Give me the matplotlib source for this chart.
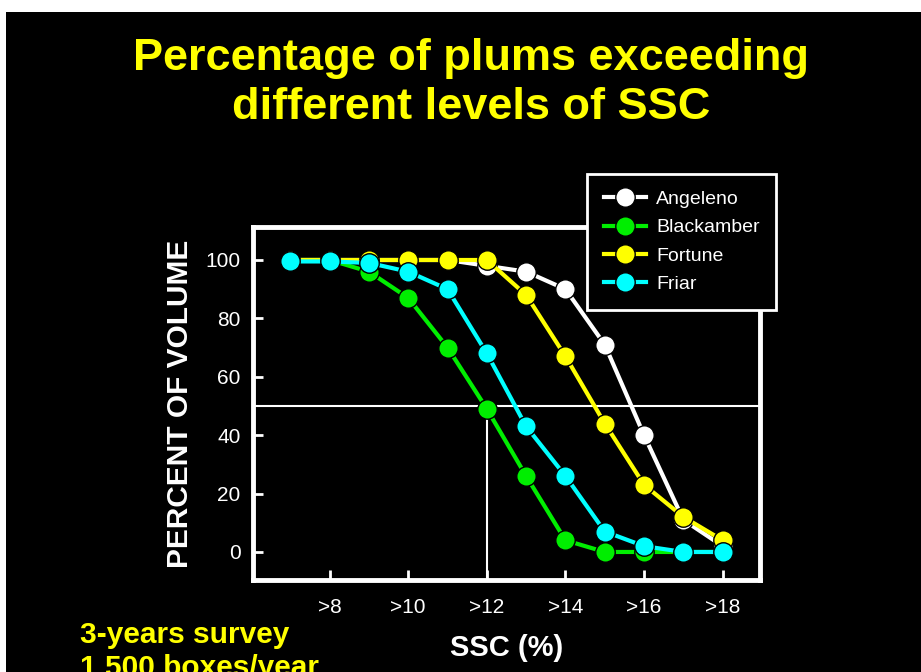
import numpy as np
import matplotlib
matplotlib.use('Agg')
from matplotlib import pyplot as plt
from matplotlib.patches import Rectangle

plt.rcParams['font.family'] = ['Liberation Sans', 'DejaVu Sans']

# data
ssc = [7, 8, 9, 10, 11, 12, 13, 14, 15, 16, 17, 18]
angeleno = [100, 100, 100, 100, 100, 98, 96, 90, 71, 40, 11, 2]
blackamber = [100, 100, 96, 87, 70, 49, 26, 4, 0, 0, 0, 0]
fortune = [100, 100, 100, 100, 100, 100, 88, 67, 44, 23, 12, 4]
friar = [99.5, 99.5, 99, 96, 90, 68, 43, 26, 7, 2, 0, 0]

series = [('Angeleno', angeleno, 'white'),
          ('Blackamber', blackamber, '#00ee00'),
          ('Fortune', fortune, '#ffff00'),
          ('Friar', friar, '#00ffff')]

xticks = [8, 10, 12, 14, 16, 18]
xticklabels = ['>8', '>10', '>12', '>14', '>16', '>18']
yticks = [0, 20, 40, 60, 80, 100]

fig = plt.figure(figsize=(9.21, 6.72), dpi=100, facecolor='white')
# black slide area with thin white border at top/left
fig.patches.append(Rectangle((6/921, 0), 1, 1 - 12/672, transform=fig.transFigure,
                             facecolor='black', edgecolor='none', zorder=-10))

ax = fig.add_axes([253/921, 1 - 580/672, 507/921, 353/672])
ax.set_facecolor('black')

for name, vals, col in series:
    ax.plot(ssc, vals, color=col, lw=3, marker='o', ms=14, mfc=col,
            mec='black', mew=1, label=name)

ax.set_xlim(6.05, 18.95)
ax.set_ylim(-9.6, 111.3)
ax.axhline(50, color='white', lw=1.5, zorder=0)
ax.vlines(12, -9.6, 50, color='white', lw=1.5, zorder=0)

ax.set_xticks(xticks)
ax.set_xticklabels(xticklabels)
ax.set_yticks(yticks)
ax.tick_params(axis='both', direction='in', colors='white', labelsize=15,
               length=7, width=2)
ax.tick_params(axis='x', pad=13)
ax.tick_params(axis='y', pad=9)
for s in ax.spines.values():
    s.set_color('white')
    s.set_linewidth(3.5)

ax.set_ylabel('PERCENT OF VOLUME', color='white', fontsize=21.5, fontweight='bold',
              labelpad=8)
fig.text(507/921, 1 - 648/672, 'SSC (%)', color='white', fontsize=21,
         fontweight='bold', ha='center', va='center')

fig.text(471/921, 1 - 83/672, 'Percentage of plums exceeding\ndifferent levels of SSC',
         color='#ffff00', fontsize=32.5, fontweight='bold', ha='center', va='center',
         linespacing=1.22)

fig.text(80/921, 1 - 621/672, '3-years survey\n1,500 boxes/year', color='#ffff00',
         fontsize=21.5, fontweight='bold', ha='left', va='top', linespacing=1.25)

leg = fig.legend(loc='upper left', bbox_to_anchor=(587/921, 1 - 174/672),
                 fontsize=14, facecolor='black', edgecolor='white', framealpha=1,
                 fancybox=False, labelcolor='white', handlelength=2.2,
                 handletextpad=0.5, borderpad=0.85, labelspacing=0.55,
                 borderaxespad=0)
leg.get_frame().set_linewidth(2)

fig.savefig('out.png', dpi=100, facecolor=fig.get_facecolor())
